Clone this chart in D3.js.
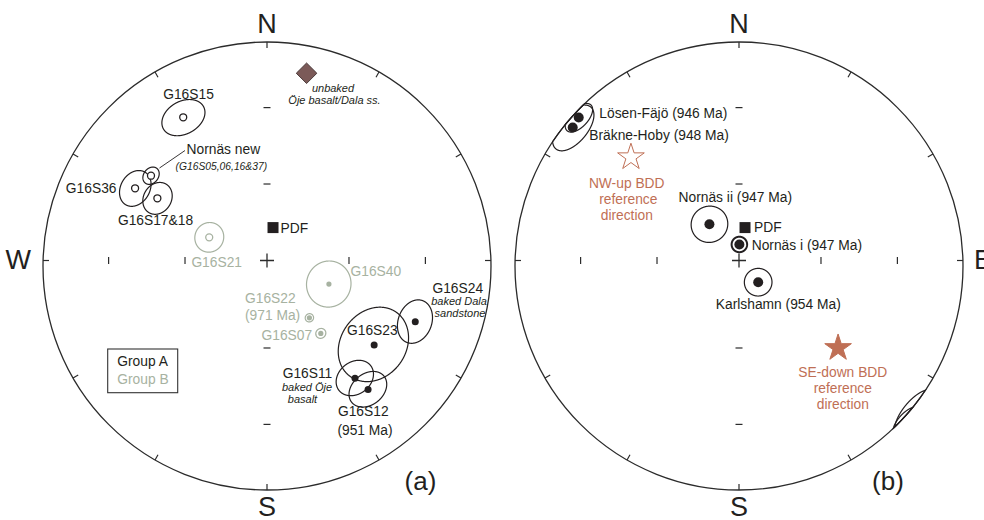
<!DOCTYPE html>
<html>
<head>
<meta charset="utf-8">
<script src="https://cdn.jsdelivr.net/npm/d3@7"></script>
<style>
  html, body { margin: 0; padding: 0; background: #fff; }
  svg { display: block; font-family: "Liberation Sans", Arial, Helvetica, sans-serif; }
</style>
</head>
<body>
<svg id="chart" width="984" height="520"></svg>
<script>
// ---------- panel (a): site-mean directions (declination, inclination, alpha95) ----------
const sitesA  = ["G16S15", "Nornäs new", "G16S36", "G16S17&18", "G16S21", "G16S40",
                 "G16S22", "G16S07", "G16S23", "G16S24", "G16S11", "G16S12"];
const decA    = [330.6, 307.9, 300.5, 301.7, 296.4, 106.3, 140.7, 141.4, 126.4, 110.6, 141.9, 140.7];
const incA    = [-24.8, -34.7, -32.2, -42.0, -66.5, 66.5, 65.6, 58.4, 40.3, 30.0, 36.5, 29.5];
const a95A    = [7.0, 3.0, 6.0, 5.5, 5.3, 8.2, 1.5, 1.8, 13.0, 7.0, 6.5, 6.5];
const groupA  = ["A", "A", "A", "A", "B", "B", "B", "B", "A", "A", "A", "A"];

// unbaked host rock direction and present dipole field
const unbakedDec = 11.6, unbakedInc = 13.2;
const pdfDec = 8.9, pdfInc = 75.9;

// ---------- panel (b): regional directions ----------
const unitsB  = ["Lösen-Fäjö", "Bräkne-Hoby", "Nornäs ii", "Nornäs i", "Karlshamn"];
const decB    = [312.8, 309.8, 324.7, 1.0, 130.2];
const incB    = [2.8, 3.8, 71.4, 82.2, 80.9];
const a95B    = [4.6, 7.2, 6.6, 2.8, 5.0];

// BDD reference directions (normal / reversed)
const refNames = ["NW-up BDD", "SE-down BDD"];
const refDec   = [315.2, 129.6];
const refInc   = [-32.1, 42.1];

// ---------- layout ----------
const R = 224;                      // primitive circle radius
const centres = [[267, 266], [739, 266]];
const axisDy = -5.5;                // E-W axis line sits a little above the centre
const ink = "#231f20";
const grey = "#a7b2a1";
const bdd = "#bf6f55";

const svg = d3.select("#chart");

// Lower-hemisphere equal-area (Schmidt) net: lat = inclination, lon from declination
function makeProjection(cx, cy) {
  return d3.geoAzimuthalEqualArea()
    .rotate([0, -90])
    .clipAngle(90)
    .scale(R / Math.SQRT2)
    .translate([cx, cy])
    .precision(0.1);
}
const toGeo = (dec, inc) => [180 - dec, inc];

function drawNet(g, proj, cx, cy, showW, showE) {
  const path = d3.geoPath(proj);
  g.append("circle").attr("cx", cx).attr("cy", cy).attr("r", R)
    .attr("fill", "none").attr("stroke", "#2b2b2b").attr("stroke-width", 1.3);

  // perimeter ticks every 30 degrees, pointing inward
  d3.range(0, 360, 30).forEach(az => {
    const p = proj(toGeo(az, 0));
    const dy = (az === 90 || az === 270) ? axisDy : 0;
    const ux = (cx - p[0]) / R, uy = (cy - p[1]) / R;
    g.append("line")
      .attr("x1", p[0]).attr("y1", p[1] + dy)
      .attr("x2", p[0] + ux * 6).attr("y2", p[1] + uy * 6 + dy)
      .attr("stroke", "#2b2b2b").attr("stroke-width", 1.2);
  });

  // inclination ticks at 30 and 60 degrees along the four axes
  [30, 60].forEach(inc => {
    [0, 180].forEach(az => {
      const p = proj(toGeo(az, inc));
      g.append("line").attr("x1", p[0] - 3.5).attr("x2", p[0] + 3.5)
        .attr("y1", p[1]).attr("y2", p[1])
        .attr("stroke", "#2b2b2b").attr("stroke-width", 1.2);
    });
    [90, 270].forEach(az => {
      const p = proj(toGeo(az, inc));
      g.append("line").attr("x1", p[0]).attr("x2", p[0])
        .attr("y1", p[1] + axisDy - 3.5).attr("y2", p[1] + axisDy + 3.5)
        .attr("stroke", "#2b2b2b").attr("stroke-width", 1.2);
    });
  });

  // centre cross
  const c = proj(toGeo(0, 90));
  g.append("path")
    .attr("d", `M${c[0] - 7},${c[1] + axisDy}H${c[0] + 7}M${c[0]},${c[1] + axisDy - 7}V${c[1] + axisDy + 7}`)
    .attr("stroke", "#2b2b2b").attr("stroke-width", 1.3);

  // cardinal letters
  const big = (t, x, y, anchor) => g.append("text").text(t).attr("x", x).attr("y", y)
    .attr("text-anchor", anchor).attr("font-size", 27).attr("fill", ink);
  big("N", cx, 32.5, "middle");
  big("S", cx, 515.5, "middle");
  if (showW) big("W", cx - R - 12, 269, "end");
  if (showE) big("E", cx + R + 11, 269, "start");
  return path;
}

// confidence cone: lower-hemisphere part plus the antipodal part that crosses the horizon
function drawCone(g, path, dec, inc, a95, colour, width) {
  const circ = d3.geoCircle().precision(0.5).radius(a95);
  const up = Math.abs(inc);
  [circ.center(toGeo(dec, up))(), circ.center(toGeo(dec + 180, -up))()].forEach(shape => {
    const d = path(shape);
    if (d) g.append("path").attr("d", d).attr("fill", "none")
      .attr("stroke", colour).attr("stroke-width", width);
  });
}

function drawDot(g, proj, dec, inc, r, colour) {
  const p = proj(toGeo(dec, Math.abs(inc)));
  g.append("circle").attr("cx", p[0]).attr("cy", p[1]).attr("r", r)
    .attr("fill", inc >= 0 ? colour : "#fff")
    .attr("stroke", colour).attr("stroke-width", inc >= 0 ? 0 : 1.3);
  return p;
}

function label(g, t, x, y, opt = {}) {
  g.append("text").text(t).attr("x", x).attr("y", y)
    .attr("text-anchor", opt.anchor || "middle")
    .attr("font-size", opt.size || 13.8)
    .attr("font-style", opt.italic ? "italic" : "normal")
    .attr("fill", opt.colour || ink);
}

// ================= panel (a) =================
const gA = svg.append("g");
const projA = makeProjection(...centres[0]);
const pathA = drawNet(gA, projA, ...centres[0], true, false);

sitesA.forEach((s, i) => {
  const col = groupA[i] === "A" ? ink : grey;
  drawCone(gA, pathA, decA[i], incA[i], a95A[i], col, 1.2);
});
sitesA.forEach((s, i) => {
  const col = groupA[i] === "A" ? ink : grey;
  const small = groupA[i] === "B" && incA[i] > 0;
  drawDot(gA, projA, decA[i], incA[i], small ? 2.6 : 3.5, col);
});

// unbaked host rock (diamond) and PDF (square)
{
  const p = projA(toGeo(unbakedDec, unbakedInc));
  gA.append("path").attr("d", d3.symbol(d3.symbolSquare, 212)())
    .attr("transform", `translate(${p[0]},${p[1]}) rotate(45)`)
    .attr("fill", "#7b5a58").attr("stroke", "#3a2a2a").attr("stroke-width", 0.8);
}
function drawPDF(g, proj) {
  const p = proj(toGeo(pdfDec, pdfInc));
  g.append("path").attr("d", d3.symbol(d3.symbolSquare, 121)())
    .attr("transform", `translate(${p[0]},${p[1]})`).attr("fill", ink);
}
drawPDF(gA, projA);

// leader line for the Nornäs new mean
gA.append("line").attr("x1", 159.5).attr("y1", 168).attr("x2", 185).attr("y2", 150.5)
  .attr("stroke", ink).attr("stroke-width", 0.9);

label(gA, "G16S15", 188.5, 99);
label(gA, "unbaked", 333, 91.5, {italic: true, size: 11});
label(gA, "Öje basalt/Dala ss.", 334.5, 103.5, {italic: true, size: 11});
label(gA, "Nornäs new", 186.5, 153.5, {anchor: "start"});
label(gA, "(G16S05,06,16&37)", 175.5, 170, {anchor: "start", italic: true, size: 10.3});
label(gA, "G16S36", 116.5, 192.5, {anchor: "end"});
label(gA, "G16S17&18", 155.5, 225);
label(gA, "PDF", 280.5, 233, {anchor: "start"});
label(gA, "G16S21", 216.7, 267, {colour: grey});
label(gA, "G16S40", 350.5, 276, {anchor: "start", colour: grey});
label(gA, "G16S22", 245, 303, {anchor: "start", colour: grey});
label(gA, "(971 Ma)", 245, 320, {anchor: "start", colour: grey});
label(gA, "G16S07", 261.5, 340, {anchor: "start", colour: grey});
label(gA, "G16S23", 347, 335, {anchor: "start"});
label(gA, "G16S24", 457.8, 293);
label(gA, "baked Dala", 459, 305, {italic: true, size: 11});
label(gA, "sandstone", 460, 317, {italic: true, size: 11});
label(gA, "G16S11", 307.5, 378);
label(gA, "baked Öje", 307, 391, {italic: true, size: 11});
label(gA, "basalt", 302.5, 403, {italic: true, size: 11});
label(gA, "G16S12", 363.3, 416);
label(gA, "(951 Ma)", 365, 435);

// group legend
gA.append("rect").attr("x", 107.7).attr("y", 349).attr("width", 70).attr("height", 43.7)
  .attr("fill", "none").attr("stroke", "#333").attr("stroke-width", 1.1);
label(gA, "Group A", 117.3, 366, {anchor: "start"});
label(gA, "Group B", 117.3, 383.5, {anchor: "start", colour: grey});

label(gA, "(a)", 420.5, 490, {size: 26});

// ================= panel (b) =================
const gB = svg.append("g");
const projB = makeProjection(...centres[1]);
const pathB = drawNet(gB, projB, ...centres[1], false, true);

unitsB.forEach((u, i) => drawCone(gB, pathB, decB[i], incB[i], a95B[i], ink, i === 3 ? 2 : 1.2));
unitsB.forEach((u, i) => drawDot(gB, projB, decB[i], incB[i], 5, ink));
drawPDF(gB, projB);

refNames.forEach((n, i) => {
  const p = projB(toGeo(refDec[i], Math.abs(refInc[i])));
  gB.append("path").attr("d", d3.symbol(d3.symbolStar, 220)())
    .attr("transform", `translate(${p[0]},${p[1]})`)
    .attr("fill", refInc[i] >= 0 ? bdd : "#fff")
    .attr("stroke", bdd).attr("stroke-width", 1);
});

label(gB, "Lösen-Fäjö (946 Ma)", 599.3, 118.3, {anchor: "start"});
label(gB, "Bräkne-Hoby (948 Ma)", 589.3, 140, {anchor: "start"});
label(gB, "NW-up BDD", 626.7, 187.7, {colour: bdd});
label(gB, "reference", 628.3, 204, {colour: bdd});
label(gB, "direction", 626.8, 220, {colour: bdd});
label(gB, "Nornäs ii (947 Ma)", 735.3, 201.5);
label(gB, "PDF", 754, 232.3, {anchor: "start"});
label(gB, "Nornäs i (947 Ma)", 751.7, 250, {anchor: "start"});
label(gB, "Karlshamn (954 Ma)", 778.3, 309.3);
label(gB, "SE-down BDD", 842.8, 376.7, {colour: bdd});
label(gB, "reference", 842.8, 392.7, {colour: bdd});
label(gB, "direction", 842.8, 408.7, {colour: bdd});
label(gB, "(b)", 888, 490, {size: 26});
</script>
</body>
</html>
